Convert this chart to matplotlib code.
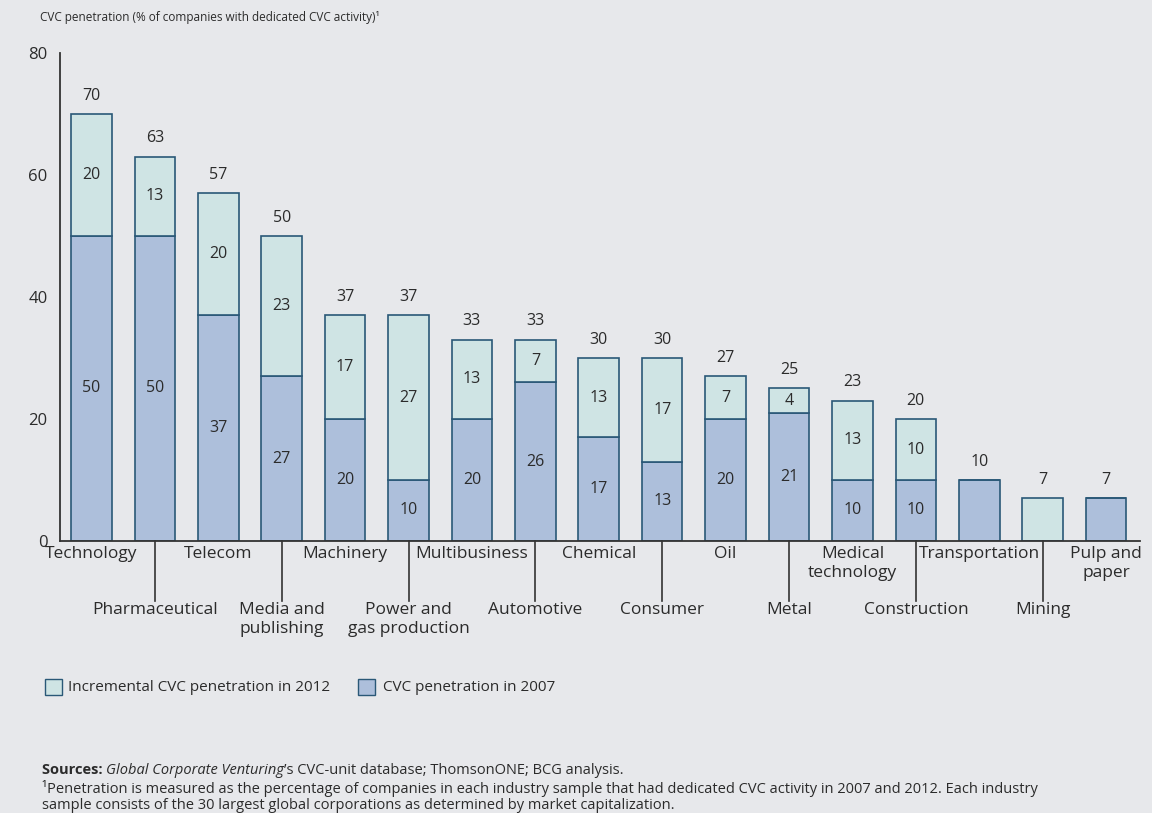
import numpy as np
import matplotlib
matplotlib.use("Agg")
import matplotlib.pyplot as plt
from matplotlib.patches import Rectangle
import matplotlib.transforms as mtransforms

# data
industries = ["Technology", "Pharmaceutical", "Telecom", "Media and\npublishing",
              "Machinery", "Power and\ngas production", "Multibusiness", "Automotive",
              "Chemical", "Consumer", "Oil", "Metal", "Medical\ntechnology",
              "Construction", "Transportation", "Mining", "Pulp and\npaper"]
pen_2007 = [50, 50, 37, 27, 20, 10, 20, 26, 17, 13, 20, 21, 10, 10, 10, 0, 7]
incr_2012 = [20, 13, 20, 23, 17, 27, 13, 7, 13, 17, 7, 4, 13, 10, 0, 7, 0]
totals = [70, 63, 57, 50, 37, 37, 33, 33, 30, 30, 27, 25, 23, 20, 10, 7, 7]
yticks = [0, 20, 40, 60, 80]

bg = "#e7e8eb"
c_base = "#adbfdb"
c_incr = "#cfe4e4"
c_edge = "#2a5877"
txt = "#2b2b2b"

plt.rcParams["font.family"] = ["Open Sans", "DejaVu Sans"]
narrow = ["Liberation Sans Narrow", "Open Sans", "DejaVu Sans"]

W, H = 1152, 813
fig = plt.figure(figsize=(W / 100, H / 100), dpi=100, facecolor=bg)
ax = fig.add_axes([60 / W, (H - 541) / H, 1080 / W, 488 / H])
ax.set_facecolor(bg)

x = np.arange(len(industries))
base = np.array(pen_2007)
inc = np.array(incr_2012)

ax.bar(x, base, width=0.64, color=c_base, edgecolor=c_edge, linewidth=1.2, zorder=2)
ax.bar(x, inc, bottom=base, width=0.64, color=c_incr, edgecolor=c_edge, linewidth=1.2, zorder=2)

for i in x:
    if base[i] > 0 and inc[i] > 0:
        ax.text(i, base[i] / 2, str(base[i]), ha="center", va="center", fontsize=11.5, color=txt)
        ax.text(i, base[i] + inc[i] / 2, str(inc[i]), ha="center", va="center", fontsize=11.5, color=txt)
    ax.text(i, totals[i] + 1.7, str(totals[i]), ha="center", va="bottom", fontsize=11.5, color=txt)

ax.set_xlim(-0.496, 16.535)
ax.set_ylim(0, 80)
ax.set_yticks(yticks)
ax.set_yticklabels([str(v) for v in yticks], fontsize=12, color=txt)
ax.tick_params(axis="y", length=0, pad=9)
ax.set_xticks([])
for s in ["top", "right"]:
    ax.spines[s].set_visible(False)
ax.spines["left"].set_color("#333333")
ax.spines["bottom"].set_color("#333333")
ax.spines["left"].set_linewidth(1.3)
ax.spines["bottom"].set_linewidth(1.3)

# staggered category labels
trans = mtransforms.blended_transform_factory(ax.transData, ax.transAxes)
for i, name in enumerate(industries):
    if i % 2 == 0:
        ax.text(i, -5 / 488, name, transform=trans, ha="center", va="top",
                fontsize=12.5, color=txt, linespacing=1.25)
    else:
        ax.plot([i, i], [0, -60 / 488], transform=trans, color="#333333",
                lw=1.2, clip_on=False)
        ax.text(i, -61 / 488, name, transform=trans, ha="center", va="top",
                fontsize=12.5, color=txt, linespacing=1.25)

# title
fig.text(40 / W, 1 - 18 / H,
         "CVC penetration (% of companies with dedicated CVC activity)\u00b9",
         ha="left", va="center", fontsize=8.5, color=txt)

# legend
fig.add_artist(Rectangle((45 / W, 1 - 695 / H), 17 / W, 16 / H, transform=fig.transFigure,
                         facecolor=c_incr, edgecolor=c_edge, lw=1))
fig.text(68 / W, 1 - 687 / H, "Incremental CVC penetration in 2012", ha="left", va="center",
         fontsize=11, color=txt)
fig.add_artist(Rectangle((358 / W, 1 - 695 / H), 17 / W, 16 / H, transform=fig.transFigure,
                         facecolor=c_base, edgecolor=c_edge, lw=1))
fig.text(383 / W, 1 - 687 / H, "CVC penetration in 2007", ha="left", va="center",
         fontsize=11, color=txt)

# footnotes
fig.canvas.draw()
r = fig.canvas.get_renderer()
xpos = 42 / W
y1 = 1 - 770 / H
for s, kw in [("Sources: ", dict(fontweight="bold")),
              ("Global Corporate Venturing", dict(style="italic")),
              ("\u2019s CVC-unit database; ThomsonONE; BCG analysis.", dict())]:
    t = fig.text(xpos, y1, s, ha="left", va="center", fontsize=10.5, color=txt,
                 family=narrow, **kw)
    bb = t.get_window_extent(renderer=r)
    xpos += bb.width / W
fig.text(42 / W, 1 - 788 / H,
         "\u00b9Penetration is measured as the percentage of companies in each industry sample that had "
         "dedicated CVC activity in 2007 and 2012. Each industry",
         ha="left", va="center", fontsize=10.5, color=txt, family=narrow)
fig.text(42 / W, 1 - 805 / H,
         "sample consists of the 30 largest global corporations as determined by market capitalization.",
         ha="left", va="center", fontsize=10.5, color=txt, family=narrow)

fig.savefig("out.png", dpi=100, facecolor=bg)
